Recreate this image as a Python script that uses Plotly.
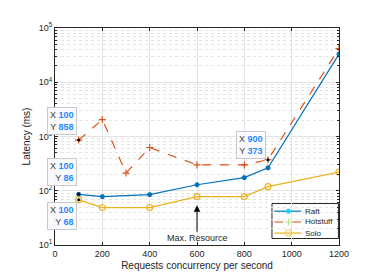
import numpy as np
import plotly.graph_objects as go

x_raft = [100, 200, 400, 600, 800, 900, 1200]
y_raft = [86, 78, 85, 129, 175, 264, 33000]
x_hot = [100, 200, 300, 400, 600, 800, 900, 1200]
y_hot = [858, 2050, 212, 627, 299, 299, 373, 41700]
x_solo = [100, 200, 400, 600, 800, 900, 1200]
y_solo = [68, 49, 49, 78, 78, 119, 221]

series_names = ["Raft", "Hotstuff", "Solo"]

x_ticks = [0, 200, 400, 600, 800, 1000, 1200]
y_ticks = [10, 100, 1000, 10000, 100000]
y_ticktext = ["10<sup>1</sup>", "10<sup>2</sup>", "10<sup>3</sup>", "10<sup>4</sup>", "10<sup>5</sup>"]

tips = [(100, 858, "right", "bottom", -2, 5), (100, 86, "right", "bottom", -2, 8),
        (100, 68, "right", "top", -2, -2), (900, 373, "right", "bottom", -2, 1)]

C_RAFT = "#0072BD"
C_HOT = "#D95319"
C_SOLO = "#EDB120"
FONT = "Liberation Sans, Arial, sans-serif"

styles = [
    dict(line=dict(color=C_RAFT, width=1.2),
         marker=dict(symbol="asterisk-open", size=4, line=dict(color=C_RAFT, width=1.8))),
    dict(line=dict(color=C_HOT, width=1.2, dash="dash"),
         marker=dict(symbol="cross-thin-open", size=5, line=dict(color=C_HOT, width=1.2))),
    dict(line=dict(color=C_SOLO, width=1.2),
         marker=dict(symbol="circle-open", size=6, line=dict(color=C_SOLO, width=1.1))),
]

fig = go.Figure()
for (xs, ys), name, st in zip([(x_raft, y_raft), (x_hot, y_hot), (x_solo, y_solo)], series_names, styles):
    fig.add_trace(go.Scatter(x=xs, y=ys, name=name, mode="lines+markers", showlegend=False, **st))

# datatip points
fig.add_trace(go.Scatter(x=[t[0] for t in tips], y=[t[1] for t in tips], mode="markers",
                         marker=dict(color="black", size=3), showlegend=False, hoverinfo="skip"))

# legend (drawn in a paper-like overlay axis)
leg_x0, leg_x1, leg_y0, leg_y1 = 0.764, 0.998, 0.030, 0.191
row_y = [0.156, 0.106, 0.055]
for name, st, ry in zip(series_names, styles, row_y):
    fig.add_trace(go.Scatter(x=[0.772, 0.822, 0.867], y=[ry, ry, ry], mode="lines", xaxis="x2", yaxis="y2",
                             line=st["line"], showlegend=False, hoverinfo="skip"))
    fig.add_trace(go.Scatter(x=[0.822], y=[ry], mode="markers", xaxis="x2", yaxis="y2",
                             marker=st["marker"], showlegend=False, hoverinfo="skip"))

minor_vals = []
for d in range(1, 5):
    for m in range(2, 10):
        minor_vals.append(m * 10 ** d)

axis_col = "#262626"
fig.update_xaxes(range=[0, 1200], tickvals=x_ticks, showline=True, linecolor=axis_col, linewidth=1,
                 mirror="ticks", ticks="inside", ticklen=3, tickcolor=axis_col,
                 showgrid=True, gridcolor="#e3e3e3", gridwidth=1, zeroline=False,
                 tickfont=dict(size=9, color=axis_col, family=FONT),
                 title=dict(text="Requests concurrency per second", font=dict(size=10, color=axis_col, family=FONT), standoff=4))
fig.update_yaxes(type="log", range=[1, 5], tickvals=y_ticks, ticktext=y_ticktext,
                 showline=True, linecolor=axis_col, linewidth=1,
                 mirror="ticks", ticks="inside", ticklen=3, tickcolor=axis_col,
                 showgrid=True, gridcolor="#e3e3e3", gridwidth=1, zeroline=False,
                 minor=dict(tickmode="array", tickvals=minor_vals, ticks="inside", ticklen=2,
                            tickcolor=axis_col, showgrid=True, gridcolor="#e3e3e3", griddash="dot", gridwidth=1),
                 tickfont=dict(size=9, color=axis_col, family=FONT),
                 title=dict(text="Latency (ms)", font=dict(size=10, color=axis_col, family=FONT), standoff=6))

annots = []
for (tx, ty, xa, ya, xs, ys) in tips:
    annots.append(dict(x=tx, y=np.log10(ty), xref="x", yref="y", showarrow=False,
                       xanchor=xa, yanchor=ya, xshift=xs, yshift=ys, align="right",
                       text=f"X <span style='color:#1a8cff'><b>{tx}</b></span><br>Y <span style='color:#1a8cff'><b>{ty}</b></span>",
                       font=dict(size=9, color="#404040", family=FONT),
                       bgcolor="rgba(250,250,252,0.95)", bordercolor="#c8c8d0", borderwidth=1, borderpad=2))
annots.append(dict(x=600, y=np.log10(54), xref="x", yref="y", text="Max. Resource",
                   showarrow=True, ax=0, ay=33, arrowhead=2, arrowsize=1.3, arrowwidth=1,
                   arrowcolor="black", font=dict(size=9, color="#262626", family=FONT)))
for name, ry in zip(series_names, row_y):
    annots.append(dict(x=0.874, y=ry, xref="paper", yref="paper", text=name, showarrow=False,
                       xanchor="left", yanchor="middle", font=dict(size=8, color="#262626", family=FONT)))

fig.update_layout(width=366, height=274, margin=dict(l=47, r=35, t=20, b=31),
                  paper_bgcolor="white", plot_bgcolor="white",
                  annotations=annots,
                  shapes=[dict(type="rect", xref="paper", yref="paper", x0=leg_x0, x1=leg_x1, y0=leg_y0, y1=leg_y1,
                               line=dict(color=axis_col, width=1), fillcolor="white", layer="between")],
                  xaxis2=dict(overlaying="x", range=[0, 1], visible=False, domain=[0, 1]),
                  yaxis2=dict(overlaying="y", range=[0, 1], visible=False, domain=[0, 1]),
                  showlegend=False,
                  font=dict(family=FONT))

fig.write_html("out.html")
